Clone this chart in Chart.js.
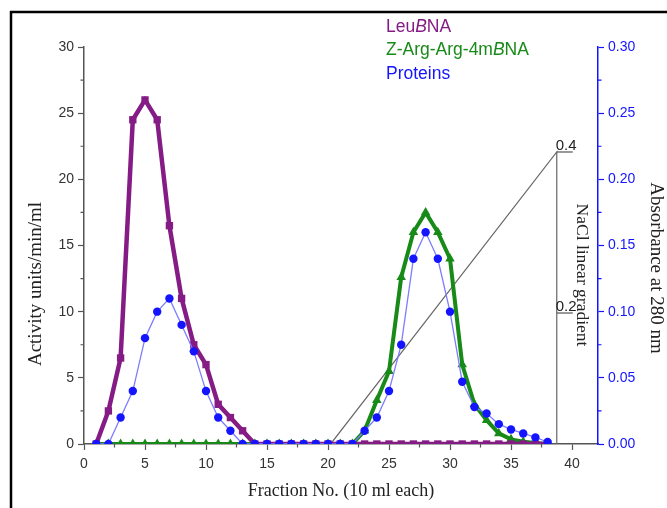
<!DOCTYPE html>
<html><head><meta charset="utf-8">
<script src="https://cdn.jsdelivr.net/npm/chart.js@4.4.1/dist/chart.umd.min.js"></script>
<style>html,body{margin:0;padding:0;background:#fff}#wrap{width:667px;height:508px;position:relative}canvas{display:block}</style>
</head><body><div id="wrap"><canvas id="c" width="667" height="508"></canvas></div>
<script>
// ---- data ----
const fractions = [1,2,3,4,5,6,7,8,9,10,11,12,13,14,15,16,17,18,19,20,21,22,23,24,25,26,27,28,29,30,31,32,33,34,35,36,37,38];
const leuBNA = [0,2.5,6.5,24.5,26,24.5,16.5,11,7.5,6,3,2,1,0,0,0,0,0,0,0,0,0,0,0,0,0,0,0,0,0,0,0,0,0,0,0,0,0];
const zArgArg = [0,0,0,0,0,0,0,0,0,0,0,0,0,0,0,0,0,0,0,0,0,0,1,3.3,5.5,12.6,16,17.5,16,14,6,3,1.8,0.8,0.35,0.17,0.08,0];
const proteins = [0,0,0.02,0.04,0.08,0.10,0.11,0.09,0.07,0.04,0.02,0.01,0,0,0,0,0,0,0,0,0,0,0.01,0.02,0.04,0.075,0.14,0.16,0.14,0.10,0.047,0.028,0.023,0.015,0.011,0.008,0.005,0.0015];
const gradientX = [20.2, 38.75, 38.75];
const gradientY = [0.037, 0.4, 0.037];
const xTickValues = [0,5,10,15,20,25,30,35,40];
const leftTickValues = [0,5,10,15,20,25,30];
const rightTickValues = [0,0.05,0.10,0.15,0.20,0.25,0.30];
const naclTickValues = [0.2, 0.4];
const xMinorValues = [2.5,7.5,12.5,17.5,22.5,27.5,32.5,37.5];
const leftMinorValues = [2.5,7.5,12.5,17.5,22.5,27.5];
const rightMinorValues = [0.025,0.075,0.125,0.175,0.225,0.275];

const PURPLE = '#851b85', GREEN = '#178a17', BLUE = '#1414ff', LBLUE = '#7d7dff', AXIS = '#555';
const SANS = '"Liberation Sans", Arial, sans-serif';
const SERIF = '"Liberation Serif", "Times New Roman", serif';

const pts = (ys) => fractions.map((f,i)=>({x:f, y:ys[i]}));

const overlay = {
  id: 'overlay',
  afterDraw(chart) {
    const ctx = chart.ctx;
    const xs = chart.scales.x, yl = chart.scales.y, yr = chart.scales.y1, yn = chart.scales.yN;
    ctx.save();
    // frame lines
    ctx.strokeStyle = '#000'; ctx.lineWidth = 2.5;
    ctx.beginPath(); ctx.moveTo(10, 12); ctx.lineTo(667, 12); ctx.moveTo(11, 11); ctx.lineTo(11, 508); ctx.stroke();
    // minor ticks
    ctx.lineWidth = 1.2; ctx.strokeStyle = AXIS;
    ctx.beginPath();
    xMinorValues.forEach(v => { const p = xs.getPixelForValue(v); ctx.moveTo(p, yl.bottom); ctx.lineTo(p, yl.bottom + 3.5); });
    leftMinorValues.forEach(v => { const p = yl.getPixelForValue(v); ctx.moveTo(xs.left, p); ctx.lineTo(xs.left - 3.5, p); });
    ctx.stroke();
    ctx.strokeStyle = BLUE;
    ctx.beginPath();
    rightMinorValues.forEach(v => { const p = yr.getPixelForValue(v); ctx.moveTo(xs.right, p); ctx.lineTo(xs.right + 3.5, p); });
    ctx.stroke();
    // NaCl gradient ticks and labels
    const gx = xs.getPixelForValue(gradientX[1]);
    ctx.strokeStyle = AXIS; ctx.lineWidth = 1.2;
    ctx.fillStyle = '#222'; ctx.font = '15px ' + SANS; ctx.textAlign = 'left'; ctx.textBaseline = 'alphabetic';
    naclTickValues.forEach(v => {
      const p = yn.getPixelForValue(v);
      ctx.beginPath(); ctx.moveTo(gx, p); ctx.lineTo(gx + 16, p); ctx.stroke();
      ctx.fillText(v.toFixed(1), gx - 1, p - 2);
    });
    // rotated titles
    const rot = (text, x, y, ang, font, color) => {
      ctx.save(); ctx.translate(x, y); ctx.rotate(ang);
      ctx.font = font; ctx.fillStyle = color; ctx.textAlign = 'center'; ctx.textBaseline = 'middle';
      ctx.fillText(text, 0, 0); ctx.restore();
    };
    rot('Activity units/min/ml', 36, 284, -Math.PI/2, '19px ' + SERIF, '#222');
    rot('Absorbance at 280 nm', 656, 268, Math.PI/2, '19px ' + SERIF, '#222');
    rot('NaCl linear gradient', 582, 275, Math.PI/2, '17.5px ' + SERIF, '#222');
    ctx.font = '18px ' + SERIF; ctx.fillStyle = '#222'; ctx.textAlign = 'center'; ctx.textBaseline = 'middle';
    ctx.fillText('Fraction No. (10 ml each)', (xs.left + xs.right)/2, 491);
    // legend (text only, colored)
    const rich = (parts, x, y, color) => {
      ctx.fillStyle = color; ctx.textAlign = 'left'; ctx.textBaseline = 'middle';
      let cx = x;
      parts.forEach(([t, it]) => { ctx.font = (it ? 'italic ' : '') + '17.5px ' + SANS; ctx.fillText(t, cx, y); cx += ctx.measureText(t).width; });
    };
    rich([['Leu',0],['B',1],['NA',0]], 386, 27, PURPLE);
    rich([['Z-Arg-Arg-4m',0],['B',1],['NA',0]], 386, 50, GREEN);
    rich([['Proteins',0]], 386, 74, BLUE);
    ctx.restore();
  }
};

new Chart(document.getElementById('c'), {
  type: 'line',
  data: { datasets: [
    { label: 'NaCl linear gradient', data: gradientX.map((x,i)=>({x, y:gradientY[i]})), yAxisID: 'yN',
      borderColor: '#666', borderWidth: 1.2, pointRadius: 0, fill: false, order: 5, tension: 0 },
    { label: 'Z-Arg-Arg-4mBNA', data: pts(zArgArg), yAxisID: 'y', borderColor: GREEN, backgroundColor: GREEN,
      borderWidth: 4, pointStyle: 'triangle', pointRadius: 5.5, pointBorderWidth: 0, order: 3 },
    { label: 'LeuBNA', data: pts(leuBNA), yAxisID: 'y', borderColor: PURPLE, backgroundColor: PURPLE,
      borderWidth: 4.5, pointStyle: 'rect', pointRadius: 5.2, pointBorderWidth: 0, order: 2 },
    { label: 'Proteins', data: pts(proteins), yAxisID: 'y1', borderColor: LBLUE, backgroundColor: BLUE,
      borderWidth: 1.3, pointStyle: 'circle', pointRadius: 4.2, pointBorderWidth: 0, order: 1 }
  ]},
  options: {
    responsive: false, animation: false,
    layout: { padding: { top: 47, left: 0, right: 0, bottom: 0 } },
    plugins: { legend: { display: false }, tooltip: { enabled: false } },
    scales: {
      x: { type: 'linear', position: 'bottom', min: 0, max: 42.13,
        afterBuildTicks: s => { s.ticks = xTickValues.map(v => ({value: v})); },
        afterFit: s => { s.height = 64; },
        grid: { drawOnChartArea: false, drawTicks: true, tickLength: 6, color: AXIS, tickWidth: 1.2 },
        border: { display: true, color: AXIS, width: 1.5 },
        ticks: { padding: 6, color: '#333', font: { family: SANS, size: 14 }, maxRotation: 0, autoSkip: false } },
      y: { position: 'left', min: 0, max: 30,
        afterBuildTicks: s => { s.ticks = leftTickValues.map(v => ({value: v})); },
        afterFit: s => { s.width = 84; },
        grid: { drawOnChartArea: false, drawTicks: true, tickLength: 6, color: AXIS, tickWidth: 1.2 },
        border: { display: true, color: AXIS, width: 1.5 },
        ticks: { padding: 4, color: '#333', font: { family: SANS, size: 14 } } },
      y1: { position: 'right', min: 0, max: 0.30,
        afterBuildTicks: s => { s.ticks = rightTickValues.map(v => ({value: v})); },
        afterFit: s => { s.width = 69; },
        grid: { drawOnChartArea: false, drawTicks: true, tickLength: 6, color: BLUE, tickWidth: 1.2 },
        border: { display: true, color: BLUE, width: 1.5 },
        ticks: { padding: 4, color: BLUE, font: { family: SANS, size: 14 }, callback: v => v.toFixed(2) } },
      yN: { display: false, min: 0.0373, max: 0.5304 }
    }
  },
  plugins: [overlay]
});
</script></body></html>
